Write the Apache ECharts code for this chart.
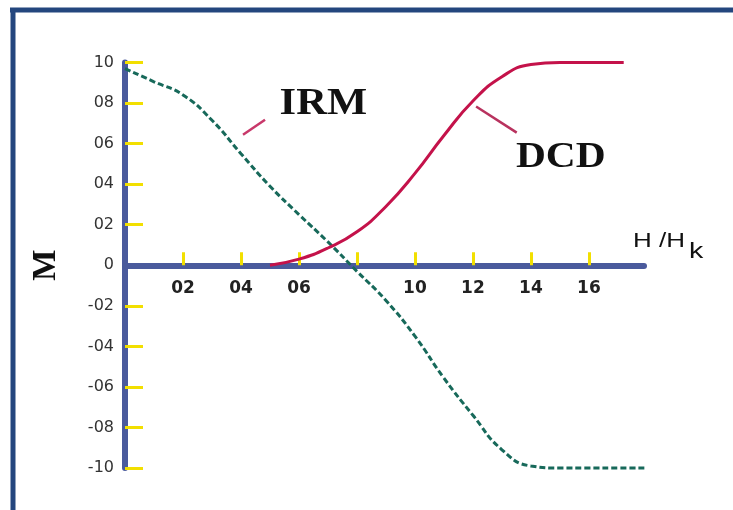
<!DOCTYPE html>
<html><head><meta charset="utf-8">
<script src="https://cdn.jsdelivr.net/npm/echarts@6/dist/echarts.min.js"></script>
<style>html,body{margin:0;padding:0;background:#fff}#c{width:733px;height:510px}</style>
</head><body><div id="c"></div>
<script>
// ---- data ----
const irmH = [0, 0.1, 0.2, 0.3, 0.4, 0.5, 0.6, 0.7, 0.8, 0.9, 1.0, 1.1, 1.2, 1.3, 1.4, 1.5, 1.6, 1.7, 1.8];
const irmM = [0.97, 0.905, 0.84, 0.715, 0.55, 0.39, 0.25, 0.115, -0.03, -0.174, -0.35, -0.557, -0.74, -0.91, -0.99, -1.0, -1.0, -1.0, -1.0];
const dcdH = [0.5, 0.6, 0.7, 0.8, 0.9, 1.0, 1.1, 1.2, 1.3, 1.4, 1.5, 1.6, 1.72];
const dcdM = [0.0, 0.03, 0.085, 0.165, 0.29, 0.453, 0.64, 0.81, 0.93, 0.99, 1.0, 1.0, 1.0];

const xTickValues = [0.2, 0.4, 0.6, 0.8, 1.0, 1.2, 1.4, 1.6];
const xLabelValues = [0.2, 0.4, 0.6, 1.0, 1.2, 1.4, 1.6];
const xLabelTexts = ["02", "04", "06", "10", "12", "14", "16"];
const yTickValues = [-1, -0.8, -0.6, -0.4, -0.2, 0.2, 0.4, 0.6, 0.8, 1];
const yLabelValues = [1, 0.8, 0.6, 0.4, 0.2, 0, -0.2, -0.4, -0.6, -0.8, -1];
const yLabelTexts = ["10", "08", "06", "04", "02", "0", "-02", "-04", "-06", "-08", "-10"];

const seriesNames = ["IRM", "DCD"];
const xName = ["H /H", "k"];
const yName = "M";

// annotation anchors in data coordinates
const irmLabelAt = [0.684, 0.794];
const dcdLabelAt = [1.503, 0.528];
const irmPointer = [[0.407, 0.644], [0.483, 0.718]];
const dcdPointer = [[1.211, 0.783], [1.351, 0.654]];
const xNameAt = [1.752, 0.116];

function pick(values, texts) {
  return function (v) {
    const i = values.findIndex(t => Math.abs(t - v) < 1e-6);
    return i >= 0 ? texts[i] : '';
  };
}
const zip = (a, b) => a.map((v, i) => [v, b[i]]);

const AXIS = '#4a5a9c', YEL = '#f2df00', IRMC = '#17695a', DCDC = '#c4124a';
const GRID_TOP = 62.5, GRID_BOTTOM = 42, H = 510;
const plotH = H - GRID_TOP - GRID_BOTTOM;

const chart = echarts.init(document.getElementById('c'), null, {renderer: 'canvas'});
const option = {
  animation: false,
  backgroundColor: '#ffffff',
  grid: {left: 125, right: 89, top: GRID_TOP, bottom: GRID_BOTTOM, outerBoundsMode: 'none', containLabel: false},
  xAxis: {
    type: 'value', min: 0, max: 1.79, interval: 0.2,
    offset: -plotH / 2,
    splitLine: {show: false},
    axisLine: {show: true, onZero: false, lineStyle: {color: AXIS, width: 6, cap: 'round'}},
    axisTick: {show: true, inside: true, length: 13, customValues: xTickValues, lineStyle: {color: YEL, width: 3}},
    axisLabel: {show: true, margin: 15, customValues: xLabelValues, formatter: pick(xLabelValues, xLabelTexts),
      fontFamily: 'DejaVu Sans', fontWeight: 'bold', fontSize: 17, color: '#222'}
  },
  yAxis: {
    type: 'value', min: -1, max: 1, interval: 0.2,
    name: yName, nameLocation: 'middle', nameGap: 62, nameRotate: 90, nameMoveOverlap: false,
    nameTextStyle: {fontFamily: 'Liberation Serif', fontWeight: 'bold', fontSize: 33, color: '#111'},
    splitLine: {show: false},
    axisLine: {show: true, onZero: false, lineStyle: {color: AXIS, width: 6}},
    axisTick: {show: true, inside: true, length: 18, customValues: yTickValues, lineStyle: {color: YEL, width: 3}},
    axisLabel: {show: true, margin: 11, customValues: yLabelValues, formatter: pick(yLabelValues, yLabelTexts),
      fontFamily: 'DejaVu Sans', fontSize: 16, color: '#333'}
  },
  series: [
    {name: seriesNames[0], type: 'line', data: zip(irmH, irmM), showSymbol: false, smooth: 0.5,
      clip: false, lineStyle: {color: IRMC, width: 3, type: [6, 3]}, z: 3},
    {name: seriesNames[1], type: 'line', data: zip(dcdH, dcdM), showSymbol: false, smooth: 0.5,
      clip: false, lineStyle: {color: DCDC, width: 3}, z: 3}
  ]
};
chart.setOption(option);

const P = (pt) => chart.convertToPixel({gridIndex: 0}, pt);
const a1 = P(irmPointer[0]), a2 = P(irmPointer[1]);
const b1 = P(dcdPointer[0]), b2 = P(dcdPointer[1]);
const li = P(irmLabelAt), ld = P(dcdLabelAt), lx = P(xNameAt);

chart.setOption({
  graphic: [
    // frame
    {type: 'line', shape: {x1: 10, y1: 10, x2: 733, y2: 10}, style: {stroke: '#24467e', lineWidth: 5}, silent: true},
    {type: 'line', shape: {x1: 13, y1: 8, x2: 13, y2: 510}, style: {stroke: '#24467e', lineWidth: 5}, silent: true},
    // pointers
    {type: 'line', shape: {x1: a1[0], y1: a1[1], x2: a2[0], y2: a2[1]}, style: {stroke: '#c8386a', lineWidth: 2.5}},
    {type: 'line', shape: {x1: b1[0], y1: b1[1], x2: b2[0], y2: b2[1]}, style: {stroke: '#b8325e', lineWidth: 2.5}},
    // series labels
    {type: 'text', x: li[0], y: li[1], scaleX: 1.12, style: {text: seriesNames[0], align: 'center', verticalAlign: 'middle',
      font: 'bold 38px "Liberation Serif"', fill: '#111'}},
    {type: 'text', x: ld[0], y: ld[1], scaleX: 1.15, style: {text: seriesNames[1], align: 'center', verticalAlign: 'middle',
      font: 'bold 36px "Liberation Serif"', fill: '#111'}},
    // x axis name H/Hk
    {type: 'group', x: lx[0], y: lx[1], scaleX: 1.3, children: [
      {type: 'text', x: 0, y: 0, style: {text: xName[0], align: 'left', verticalAlign: 'middle', font: '20px "Liberation Sans"', fill: '#111'}},
      {type: 'text', x: 43, y: 10, style: {text: xName[1], align: 'left', verticalAlign: 'middle', font: '22px "Liberation Sans"', fill: '#111'}}
    ]}
  ]
});
</script>
</body></html>
